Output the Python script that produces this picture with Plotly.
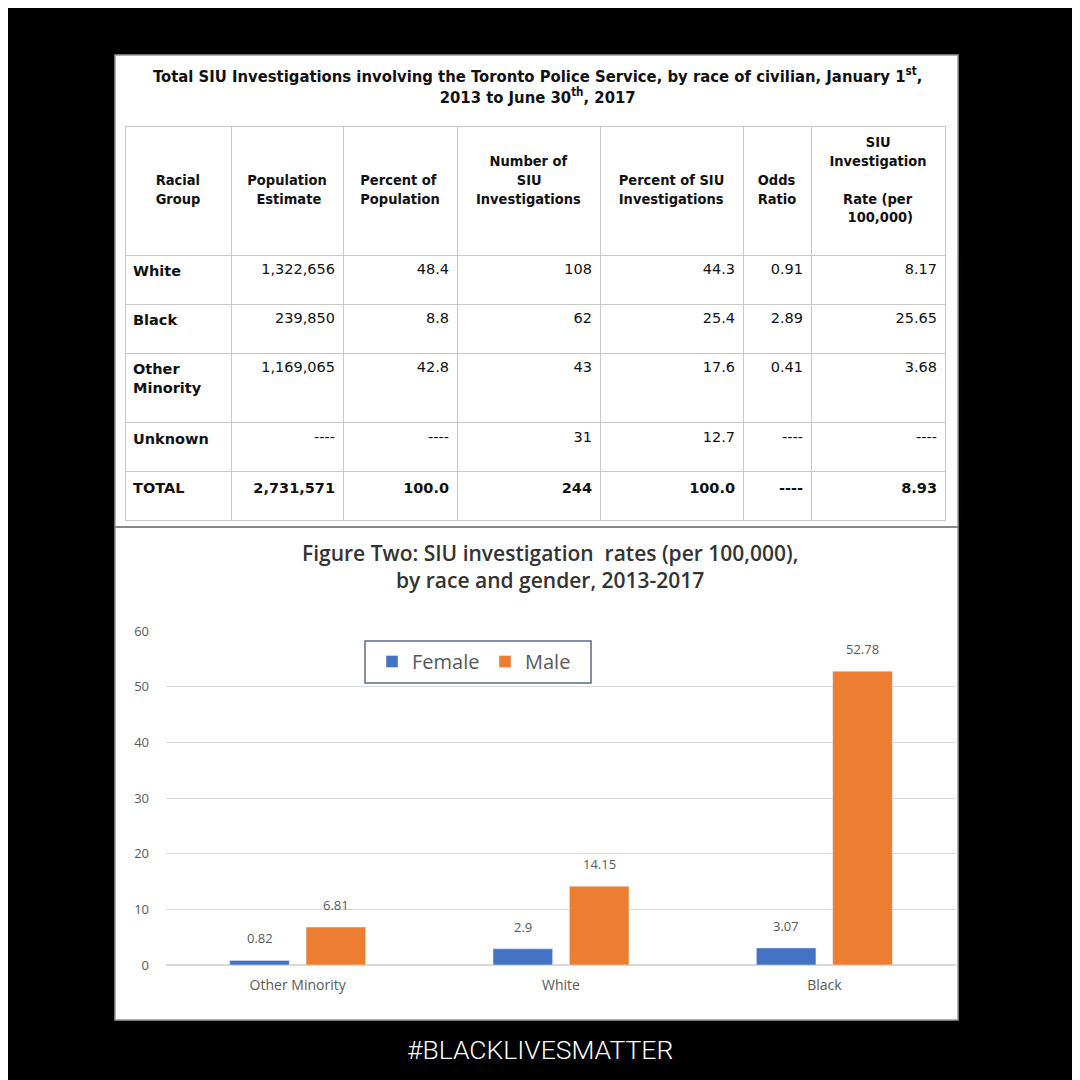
import plotly.graph_objects as go

# table data
table_title = ("Total SIU Investigations involving the Toronto Police Service, by race of civilian, "
               "January 1<sup>st</sup>,<br>2013 to June 30<sup>th</sup>, 2017")
header_labels = [["", "", "Racial", "Group"],
                 ["", "", "Population", "Estimate"],
                 ["", "", "Percent of", "Population"],
                 ["", "Number of", "SIU", "Investigations"],
                 ["", "", "Percent of SIU", "Investigations"],
                 ["", "", "Odds", "Ratio"],
                 ["SIU", "Investigation", "", "Rate (per", "100,000)"]]
# rough left padding (in spaces) so each header line sits centred
header_pad = [[0, 0, 0, 0], [0, 0, 0, 2], [0, 0, 0, 0], [0, 3, 9, 0],
              [0, 0, 0, 0], [0, 0, 0, 0], [8, 0, 0, 3, 4]]
racial_group = ["White", "Black", "Other<br>Minority<br> ", "Unknown", "TOTAL"]
population = ["1,322,656", "239,850", "1,169,065", "----", "2,731,571"]
pct_population = ["48.4", "8.8", "42.8", "----", "100.0"]
num_investigations = ["108", "62", "43", "31", "244"]
pct_investigations = ["44.3", "25.4", "17.6", "12.7", "100.0"]
odds_ratio = ["0.91", "2.89", "0.41", "----", "----"]
rate_per_100k = ["8.17", "25.65", "3.68", "----", "8.93"]

# chart data
chart_title = "Figure Two: SIU investigation  rates (per 100,000),<br>by race and gender, 2013-2017"
races = ["Other Minority", "White", "Black"]
female_rates = [0.82, 2.9, 3.07]
male_rates = [6.81, 14.15, 52.78]
hashtag = "#BLACKLIVESMATTER"

W = H = 1080
OFF = 8  # page offset of the plot div
def px(x):
    return (x - OFF) / W
def py(y):
    return 1 - (y - OFF) / H

header_text = []
for lines, pads in zip(header_labels, header_pad):
    parts = []
    for ln, p in zip(lines, pads):
        parts.append("&nbsp;" * p + ln if ln else "&nbsp;")
    header_text.append("<b>" + "<br>".join(parts) + "</b>")

table_cols = [racial_group, population, pct_population, num_investigations,
              pct_investigations, odds_ratio, rate_per_100k]
# bold first column and the total row
cell_values = []
for ci, col in enumerate(table_cols):
    out = []
    for ri, v in enumerate(col):
        if ci == 0 or ri == len(col) - 1:
            out.append("<b>" + v + "</b>")
        else:
            out.append(v)
    cell_values.append(out)

fig = go.Figure()

fig.add_trace(go.Table(
    domain=dict(x=[px(125), px(945)], y=[py(522), py(126)]),
    columnwidth=[106, 112, 114, 143, 143, 68, 134],
    header=dict(values=header_text,
                align="center", height=129,
                fill_color="white", line=dict(color="#C8C8C8", width=1),
                font=dict(family="DejaVu Sans Condensed, DejaVu Sans", size=14.5, color="#111")),
    cells=dict(values=cell_values,
               align=["left", "right", "right", "right", "right", "right", "right"],
               height=49, fill_color="white", line=dict(color="#C8C8C8", width=1),
               font=dict(family="DejaVu Sans", size=14.5, color="#111")),
))

fig.add_trace(go.Bar(name="Female", x=races, y=female_rates, marker_color="#4472C4",
                     hoverinfo="skip"))
fig.add_trace(go.Bar(name="Male", x=races, y=male_rates, marker_color="#ED7D31",
                     hoverinfo="skip"))

# data labels above bars
for trace_idx, vals in enumerate([female_rates, male_rates]):
    for i, v in enumerate(vals):
        fig.add_annotation(x=i, y=v, xref="x", yref="y", text=str(v), showarrow=False,
                           xshift=(-38 if trace_idx == 0 else 38), yshift=22,
                           font=dict(family="Open Sans", size=13, color="#595959"))

fig.add_annotation(x=px(537), y=py(86), xref="paper", yref="paper", text="<b>" + table_title + "</b>",
                   xanchor="center", yanchor="middle", showarrow=False,
                   font=dict(family="DejaVu Sans Condensed, DejaVu Sans", size=16.5, color="#111"))
fig.add_annotation(x=px(550), y=py(566), xref="paper", yref="paper", text=chart_title,
                   xanchor="center", yanchor="middle", showarrow=False,
                   font=dict(family="Open Sans", size=21, color="#333", weight=600))
fig.add_annotation(x=px(540), y=py(1049), xref="paper", yref="paper", text=hashtag,
                   xanchor="center", yanchor="middle", showarrow=False,
                   font=dict(family="Roboto", size=26.5, color="white", weight=300))

fig.update_layout(
    width=W, height=H,
    margin=dict(l=0, r=0, t=0, b=0, autoexpand=False),
    paper_bgcolor="black", plot_bgcolor="white",
    barmode="group", bargap=0.42, bargroupgap=0.22,
    showlegend=True,
    legend=dict(orientation="h", x=px(372), y=py(642), xanchor="left", yanchor="top",
                bgcolor="rgba(0,0,0,0)", borderwidth=0,
                font=dict(family="Open Sans", size=20, color="#595959"),
                itemwidth=30, entrywidth=68),
    xaxis=dict(domain=[px(166), px(956)], showgrid=False, showline=False, ticks="",
               ticklabelstandoff=10,
               tickfont=dict(family="Open Sans", size=14, color="#595959")),
    yaxis=dict(domain=[py(965), py(631)], range=[0, 60], dtick=10,
               gridcolor="#D9D9D9", zeroline=True, zerolinecolor="#D9D9D9",
               ticklabelstandoff=16,
               tickfont=dict(family="Open Sans", size=13, color="#595959")),
    shapes=[
        dict(type="rect", xref="paper", yref="paper", x0=px(115), x1=px(958), y0=py(1020), y1=py(55),
             fillcolor="white", line=dict(color="#999", width=1.5), layer="below"),
        dict(type="line", xref="paper", yref="paper", x0=px(115), x1=px(958), y0=py(527), y1=py(527),
             line=dict(color="#888", width=2)),
        # legend frame
        dict(type="rect", xref="paper", yref="paper", x0=px(365), x1=px(591), y0=py(683), y1=py(641),
             fillcolor="white", line=dict(color="#5A6A88", width=1.5), layer="between"),
    ],
)

fig.write_html("out.html")
